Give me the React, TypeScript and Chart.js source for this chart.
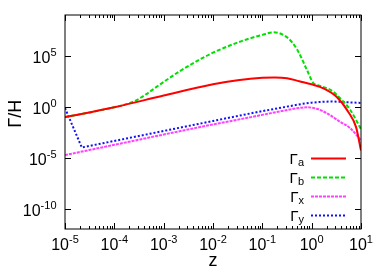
import React, { useEffect, useRef } from 'react';
import { Chart, registerables } from 'chart.js';

Chart.register(...registerables);

// ---- data ----
const zA = [1e-5, 1e-4, 1e-3, 1e-2, 3.16e-2, 0.1, 0.178, 0.316, 0.562, 1, 1.78, 3.16, 5.62, 7.94, 10];
const gammaA = [9.5e-2, 0.89, 12.6, 158, 398, 692, 741, 631, 316, 158, 60.3, 10, 0.275, 0.01, 5.0e-5];

const zB = [1e-5, 1e-4, 2.45e-4, 4.17e-4, 8.51e-4, 2.14e-3, 5.01e-3, 1e-2, 3.16e-2, 4.79e-2, 0.1, 0.166, 0.309, 0.501, 0.794, 1.07, 1.26, 2.69, 3.72, 6.03, 10];
const gammaB = [9.5e-2, 0.89, 3.16, 14.1, 158, 3.16e3, 3.55e4, 2.0e5, 2.0e6, 4.0e6, 1.12e7, 2.0e7, 7.1e6, 4.6e5, 4.57e3, 224, 151, 32.4, 7.24, 0.5, 6.3e-3];

const zX = [1e-5, 1e-4, 1e-3, 1e-2, 3.16e-2, 0.1, 0.251, 0.501, 0.794, 1.26, 2.0, 3.72, 6.03, 10];
const gammaX = [1.78e-5, 1.82e-4, 1.86e-3, 1.82e-2, 5.37e-2, 0.158, 0.38, 0.708, 0.871, 0.631, 0.24, 3.47e-2, 7.94e-3, 5.0e-4];

const zY = [1e-5, 2.19e-5, 1e-4, 1e-3, 1e-2, 3.16e-2, 0.1, 0.2, 0.398, 0.631, 1, 1.58, 2.51, 3.98, 6.31, 10];
const gammaY = [0.74, 1e-4, 4.37e-4, 4.17e-3, 3.98e-2, 0.123, 0.372, 0.676, 1.26, 1.86, 2.51, 3.02, 3.24, 3.02, 2.63, 2.34];

const seriesSubs = ['a', 'b', 'x', 'y'];
const seriesColors = ['#ff0000', '#00e000', '#ff40ff', '#1010ff'];

const xTickValues = [1e-5, 1e-4, 1e-3, 1e-2, 1e-1, 1, 10];
const xTickExps = ['-5', '-4', '-3', '-2', '-1', '0', '1'];
const xMinorMultipliers = [2, 3, 4, 5, 6, 7, 8, 9];
const yTickValues = [1e-10, 1e-5, 1, 1e5];
const yTickExps = ['-10', '-5', '0', '5'];
const xAxisTitle = 'z';
const yAxisTitle = 'Γ/H';

const FONT = "'Liberation Sans', Arial, Helvetica, sans-serif";

function drawPow(ctx: CanvasRenderingContext2D, exp: string, x: number, baseY: number, align: 'center' | 'right') {
  ctx.font = `16px ${FONT}`;
  const bw = ctx.measureText('10').width;
  ctx.font = `11px ${FONT}`;
  const ew = ctx.measureText(exp).width;
  const total = bw + ew;
  const left = align === 'center' ? x - total / 2 : x - total;
  ctx.textAlign = 'left';
  ctx.textBaseline = 'alphabetic';
  ctx.font = `16px ${FONT}`;
  ctx.fillText('10', left, baseY);
  ctx.font = `11px ${FONT}`;
  ctx.fillText(exp, left + bw, baseY - 7);
}

const decorPlugin = {
  id: 'decor',
  afterDatasetsDraw(chart: any) {
    const { ctx, chartArea: a, scales } = chart;
    const xs = scales.x;
    const ys = scales.y;
    ctx.save();
    ctx.fillStyle = '#000';
    ctx.strokeStyle = '#000';
    ctx.lineWidth = 1;
    ctx.setLineDash([]);

    // ticks (inward, mirrored)
    ctx.beginPath();
    const majorLen = 6;
    const minorLen = 3;
    xTickValues.forEach((v) => {
      const px = Math.round(xs.getPixelForValue(v)) + 0.5;
      ctx.moveTo(px, a.bottom); ctx.lineTo(px, a.bottom - majorLen);
      ctx.moveTo(px, a.top); ctx.lineTo(px, a.top + majorLen);
    });
    xTickValues.slice(0, -1).forEach((v) => {
      xMinorMultipliers.forEach((m) => {
        const px = Math.round(xs.getPixelForValue(v * m)) + 0.5;
        ctx.moveTo(px, a.bottom); ctx.lineTo(px, a.bottom - minorLen);
        ctx.moveTo(px, a.top); ctx.lineTo(px, a.top + minorLen);
      });
    });
    yTickValues.forEach((v) => {
      const py = Math.round(ys.getPixelForValue(v)) + 0.5;
      ctx.moveTo(a.left, py); ctx.lineTo(a.left + majorLen, py);
      ctx.moveTo(a.right, py); ctx.lineTo(a.right - majorLen, py);
    });
    ctx.stroke();

    // frame
    ctx.strokeRect(a.left, a.top, a.right - a.left, a.bottom - a.top);

    // tick labels
    xTickValues.forEach((v, i) => {
      drawPow(ctx, xTickExps[i], xs.getPixelForValue(v), 250, 'center');
    });
    yTickValues.forEach((v, i) => {
      drawPow(ctx, yTickExps[i], 56.5, ys.getPixelForValue(v) + 7, 'right');
    });

    // axis titles
    ctx.font = `18px ${FONT}`;
    ctx.textAlign = 'center';
    ctx.textBaseline = 'alphabetic';
    ctx.fillText(xAxisTitle, (a.left + a.right) / 2, 266);
    ctx.save();
    ctx.translate(20.5, 113.7);
    ctx.rotate(-Math.PI / 2);
    ctx.fillText(yAxisTitle, 0, 0);
    ctx.restore();

    // legend
    chart.data.datasets.forEach((ds: any, i: number) => {
      const ly = 158.5 + i * 19;
      ctx.font = `15px ${FONT}`;
      const gw = ctx.measureText('Γ').width;
      ctx.font = `11px ${FONT}`;
      const sw = ctx.measureText(seriesSubs[i]).width;
      const left = 304 - gw - sw;
      ctx.textAlign = 'left';
      ctx.fillStyle = '#000';
      ctx.font = `15px ${FONT}`;
      ctx.fillText('Γ', left, ly + 5);
      ctx.font = `11px ${FONT}`;
      ctx.fillText(seriesSubs[i], left + gw, ly + 7);
      ctx.beginPath();
      ctx.strokeStyle = ds.borderColor;
      ctx.lineWidth = ds.borderWidth;
      ctx.setLineDash(ds.borderDash || []);
      ctx.moveTo(311, ly);
      ctx.lineTo(346, ly);
      ctx.stroke();
    });
    ctx.restore();
  },
};

function pts(zs: number[], gs: number[]) {
  return zs.map((z, i) => ({ x: z, y: gs[i] }));
}

export default function App() {
  const ref = useRef<HTMLCanvasElement>(null);
  useEffect(() => {
    const chart = new Chart(ref.current as HTMLCanvasElement, {
      type: 'line',
      data: {
        datasets: [
          { label: 'Γa', data: pts(zA, gammaA), borderColor: seriesColors[0], borderWidth: 2, cubicInterpolationMode: 'monotone', pointRadius: 0 },
          { label: 'Γb', data: pts(zB, gammaB), borderColor: seriesColors[1], borderWidth: 2, borderDash: [4, 2], cubicInterpolationMode: 'monotone', pointRadius: 0 },
          { label: 'Γx', data: pts(zX, gammaX), borderColor: seriesColors[2], borderWidth: 2, borderDash: [3, 1], cubicInterpolationMode: 'monotone', pointRadius: 0 },
          { label: 'Γy', data: pts(zY, gammaY), borderColor: seriesColors[3], borderWidth: 2, borderDash: [2, 2], tension: 0, pointRadius: 0 },
        ] as any,
      },
      options: {
        responsive: false,
        animation: false,
        parsing: false as any,
        layout: { padding: { top: 15, right: 21, left: 0, bottom: 0 } },
        plugins: { legend: { display: false }, tooltip: { enabled: false } },
        scales: {
          x: {
            type: 'logarithmic', min: 1e-5, max: 10,
            grid: { display: false }, border: { display: false }, ticks: { display: false },
            afterFit: (s: any) => { s.height = 39; },
          },
          y: {
            type: 'logarithmic', min: 1e-12, max: 1e9,
            grid: { display: false }, border: { display: false }, ticks: { display: false },
            afterFit: (s: any) => { s.width = 65; },
          },
        },
      } as any,
      plugins: [decorPlugin],
    });
    return () => chart.destroy();
  }, []);
  return (
    <div style={{ position: 'fixed', left: 0, top: 0, width: 382, height: 268, background: '#fff' }}>
      <canvas ref={ref} width={382} height={268} style={{ width: 382, height: 268, display: 'block' }} />
    </div>
  );
}
